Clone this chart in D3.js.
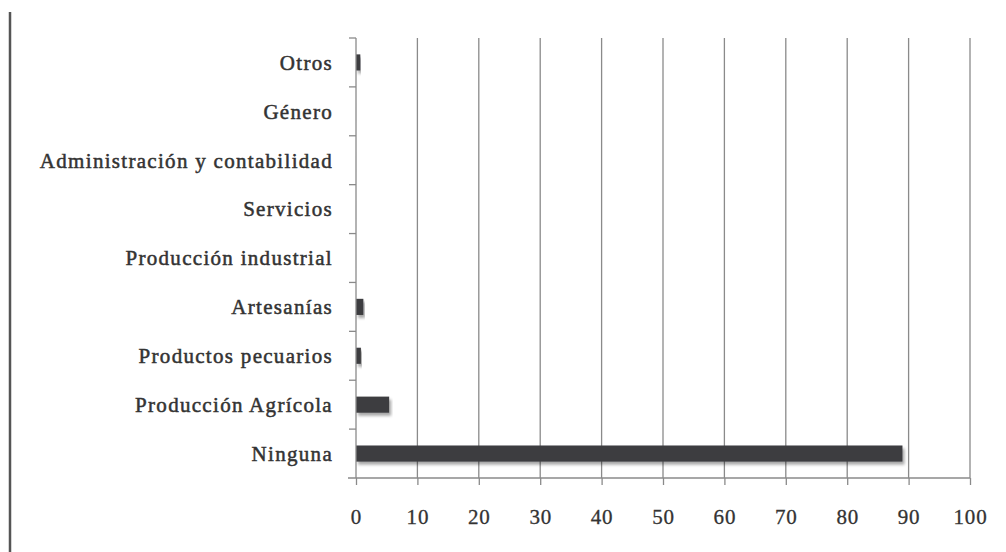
<!DOCTYPE html>
<html>
<head>
<meta charset="utf-8">
<script src="https://cdn.jsdelivr.net/npm/d3@7"></script>
<style>
  body { margin: 0; background: #fff; }
  svg { display: block; }
</style>
</head>
<body>
<div id="chart"></div>
<script>
// categories, top to bottom
const categories = ["Otros", "Género", "Administración y contabilidad", "Servicios",
  "Producción industrial", "Artesanías", "Productos pecuarios", "Producción Agrícola", "Ninguna"];
const values = [0.7, 0, 0, 0, 0, 1.2, 0.8, 5.4, 89];
const xTicks = [0, 10, 20, 30, 40, 50, 60, 70, 80, 90, 100];

let svgWidth = 1006;
let svgHeight = 552;
let margin = { top: 38, right: 36, bottom: 74, left: 356 };
let chartHeight = svgHeight - margin.top - margin.bottom;
let serif = "'Liberation Serif', 'Times New Roman', serif";

let svg = d3.select("#chart").append("svg")
  .attr("width", svgWidth)
  .attr("height", svgHeight);

// soft shadow under the bars
let defs = svg.append("defs");
let f = defs.append("filter").attr("id", "shadow")
  .attr("x", "-5%").attr("y", "-30%").attr("width", "115%").attr("height", "190%");
f.append("feDropShadow").attr("dx", 2).attr("dy", 3).attr("stdDeviation", 1.6)
  .attr("flood-color", "#000").attr("flood-opacity", 0.35);

// page border line at the left
svg.append("line")
  .attr("x1", 10).attr("x2", 10).attr("y1", 12).attr("y2", svgHeight)
  .attr("stroke", "#555").attr("stroke-width", 2.5);

let g = svg.append("g").attr("transform", `translate(${margin.left},${margin.top})`);

let x = d3.scaleLinear().domain([0, 100]).range([0, 614]);
let y = d3.scaleBand().domain(categories).range([0, chartHeight]).paddingInner(0.67).paddingOuter(0.335);

// vertical gridlines
g.selectAll(".grid").data(xTicks.slice(1)).enter().append("line")
  .attr("class", "grid")
  .attr("x1", d => x(d)).attr("x2", d => x(d))
  .attr("y1", 0).attr("y2", chartHeight)
  .attr("stroke", "#8a8a8a").attr("stroke-width", 1.3);

// bars
g.selectAll(".bar").data(values).enter().append("rect")
  .attr("class", "bar")
  .attr("x", 0)
  .attr("y", (d, i) => y(categories[i]))
  .attr("width", d => Math.max(x(d), 0.6))
  .attr("height", y.bandwidth())
  .attr("fill", d => d > 0 ? "#3d3d40" : "#fafafa")
  .attr("filter", "url(#shadow)");

// x axis
let xAxis = g.append("g").attr("transform", `translate(0,${chartHeight})`)
  .call(d3.axisBottom(x).tickValues(xTicks).tickSize(7).tickPadding(24).tickFormat(d3.format("d")));
xAxis.select(".domain").attr("d", `M-8,0H${x(100)}`);

// y axis with ticks at band boundaries
let bounds = d3.range(categories.length).map(i => i * y.step());
g.append("line").attr("x1", 0).attr("x2", 0).attr("y1", 0).attr("y2", chartHeight)
  .attr("stroke", "#8a8a8a").attr("stroke-width", 1.3);
g.selectAll(".ytick").data(bounds).enter().append("line")
  .attr("class", "ytick")
  .attr("x1", -7).attr("x2", 0).attr("y1", d => d).attr("y2", d => d)
  .attr("stroke", "#8a8a8a").attr("stroke-width", 1.3);

xAxis.selectAll("line, path").attr("stroke", "#8a8a8a").attr("stroke-width", 1.3);
xAxis.selectAll("text")
  .style("font-family", serif)
  .attr("font-size", 21)
  .attr("letter-spacing", 0.8)
  .attr("fill", "#333")
  .attr("stroke", "#333").attr("stroke-width", 0.3);

// category labels
g.selectAll(".lbl").data(categories).enter().append("text")
  .attr("class", "lbl")
  .attr("x", -23)
  .attr("y", d => y(d) + y.bandwidth() / 2)
  .attr("dy", "0.35em")
  .attr("text-anchor", "end")
  .style("font-family", serif)
  .attr("font-size", 21)
  .attr("letter-spacing", 1.3)
  .attr("fill", "#333")
  .attr("stroke", "#333").attr("stroke-width", 0.5)
  .text(d => d);
</script>
</body>
</html>
